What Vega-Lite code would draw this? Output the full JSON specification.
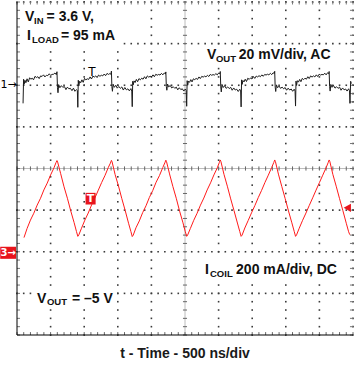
{
  "$schema": "https://vega.github.io/schema/vega-lite/v6.json",
  "width": 336,
  "height": 333,
  "padding": {"left": 17, "top": 2, "right": 1, "bottom": 31},
  "autosize": {"type": "none"},
  "background": "white",
  "config": {
    "view": {"stroke": null},
    "axis": {"disable": true},
    "square": {"size": 2.6, "filled": true, "color": "#3a3a3a", "opacity": 1}
  },
  "datasets": {
    "one": [{}],
    "mx": [{"t":0},{"t":0.1},{"t":0.2},{"t":0.3},{"t":0.4},{"t":0.5},{"t":0.6},{"t":0.7},{"t":0.8},{"t":0.9},{"t":1},{"t":1.1},{"t":1.2},{"t":1.3},{"t":1.4},{"t":1.5},{"t":1.6},{"t":1.7},{"t":1.8},{"t":1.9},{"t":2},{"t":2.1},{"t":2.2},{"t":2.3},{"t":2.4},{"t":2.5},{"t":2.6},{"t":2.7},{"t":2.8},{"t":2.9},{"t":3},{"t":3.1},{"t":3.2},{"t":3.3},{"t":3.4},{"t":3.5},{"t":3.6},{"t":3.7},{"t":3.8},{"t":3.9},{"t":4},{"t":4.1},{"t":4.2},{"t":4.3},{"t":4.4},{"t":4.5},{"t":4.6},{"t":4.7},{"t":4.8},{"t":4.9},{"t":5}],
    "my": [{"d":-4},{"d":-3.8},{"d":-3.6},{"d":-3.4},{"d":-3.2},{"d":-3},{"d":-2.8},{"d":-2.6},{"d":-2.4},{"d":-2.2},{"d":-2},{"d":-1.8},{"d":-1.6},{"d":-1.4},{"d":-1.2},{"d":-1},{"d":-0.8},{"d":-0.6},{"d":-0.4},{"d":-0.2},{"d":0},{"d":0.2},{"d":0.4},{"d":0.6},{"d":0.8},{"d":1},{"d":1.2},{"d":1.4},{"d":1.6},{"d":1.8},{"d":2},{"d":2.2},{"d":2.4},{"d":2.6},{"d":2.8},{"d":3},{"d":3.2},{"d":3.4},{"d":3.6},{"d":3.8},{"d":4}],
    "labels": [
      {"label": "V", "t": 0.119, "lev": 3.546},
      {"label": "= 3.6 V,", "t": 0.44, "lev": 3.546},
      {"label": "I", "t": 0.149, "lev": 3.089},
      {"label": "= 95 mA", "t": 0.655, "lev": 3.089},
      {"label": "V", "t": 2.827, "lev": 2.632},
      {"label": "20 mV/div, AC", "t": 3.3, "lev": 2.632},
      {"label": "I", "t": 2.798, "lev": -2.536},
      {"label": "200 mA/div, DC", "t": 3.26, "lev": -2.536},
      {"label": "V", "t": 0.298, "lev": -3.233},
      {"label": "= –5 V", "t": 0.818, "lev": -3.233}
    ],
    "subs": [
      {"label": "IN", "t": 0.253, "lev": 3.474},
      {"label": "LOAD", "t": 0.223, "lev": 3.017},
      {"label": "OUT", "t": 2.961, "lev": 2.56},
      {"label": "COIL", "t": 2.872, "lev": -2.608},
      {"label": "OUT", "t": 0.446, "lev": -3.281}
    ],
    "ch1": [
      {"t":0.090,"mV":-8.7},{"t":0.098,"mV":2.9},{"t":0.106,"mV":0.5},{"t":0.118,"mV":2.4},{"t":0.132,"mV":1.2},{"t":0.150,"mV":3.1},{"t":0.168,"mV":1.6},{"t":0.188,"mV":3.6},{"t":0.206,"mV":2.9},{"t":0.226,"mV":3.4},{"t":0.246,"mV":2.6},{"t":0.268,"mV":4.3},{"t":0.288,"mV":3.7},{"t":0.310,"mV":4.1},{"t":0.330,"mV":3.2},{"t":0.352,"mV":4.5},{"t":0.372,"mV":4.2},{"t":0.395,"mV":5.0},{"t":0.415,"mV":4.0},{"t":0.438,"mV":4.8},{"t":0.458,"mV":4.6},{"t":0.480,"mV":5.5},{"t":0.500,"mV":4.7},{"t":0.522,"mV":5.2},{"t":0.545,"mV":5.3},{"t":0.565,"mV":5.9},{"t":0.585,"mV":5.1},{"t":0.595,"mV":6.5},{"t":0.602,"mV":-1.0},{"t":0.610,"mV":-3.6},{"t":0.620,"mV":0.3},{"t":0.638,"mV":-1.2},{"t":0.660,"mV":-0.2},{"t":0.682,"mV":-1.0},{"t":0.705,"mV":-0.6},{"t":0.728,"mV":-2.1},{"t":0.750,"mV":-0.9},{"t":0.772,"mV":-1.7},{"t":0.795,"mV":-1.5},{"t":0.818,"mV":-2.6},{"t":0.840,"mV":-1.4},{"t":0.862,"mV":-2.9},{"t":0.885,"mV":-2.1},{"t":0.898,"mV":-2.5},{"t":0.905,"mV":-10.6},
      {"t":0.912,"mV":2.4},{"t":0.920,"mV":-0.3},{"t":0.932,"mV":1.9},{"t":0.948,"mV":1.2},{"t":0.966,"mV":2.6},{"t":0.985,"mV":1.4},{"t":1.005,"mV":3.3},{"t":1.025,"mV":2.6},{"t":1.046,"mV":3.1},{"t":1.066,"mV":2.8},{"t":1.088,"mV":4.0},{"t":1.108,"mV":3.0},{"t":1.130,"mV":4.4},{"t":1.150,"mV":3.9},{"t":1.172,"mV":4.5},{"t":1.192,"mV":3.7},{"t":1.214,"mV":4.9},{"t":1.234,"mV":4.3},{"t":1.256,"mV":4.8},{"t":1.276,"mV":4.5},{"t":1.298,"mV":5.4},{"t":1.318,"mV":4.6},{"t":1.340,"mV":5.7},{"t":1.360,"mV":5.2},{"t":1.382,"mV":5.6},{"t":1.398,"mV":5.3},{"t":1.405,"mV":6.8},{"t":1.412,"mV":-0.7},{"t":1.420,"mV":-2.9},{"t":1.430,"mV":0.5},{"t":1.448,"mV":-1.0},{"t":1.470,"mV":0.0},{"t":1.492,"mV":-1.4},{"t":1.515,"mV":-0.6},{"t":1.538,"mV":-1.5},{"t":1.560,"mV":-0.8},{"t":1.582,"mV":-2.3},{"t":1.605,"mV":-1.1},{"t":1.628,"mV":-2.2},{"t":1.650,"mV":-1.7},{"t":1.672,"mV":-2.7},{"t":1.695,"mV":-1.6},{"t":1.708,"mV":-2.8},{"t":1.715,"mV":-10.3},
      {"t":1.722,"mV":1.9},{"t":1.730,"mV":0.2},{"t":1.742,"mV":2.1},{"t":1.758,"mV":1.3},{"t":1.776,"mV":2.8},{"t":1.795,"mV":1.7},{"t":1.815,"mV":3.2},{"t":1.835,"mV":2.6},{"t":1.856,"mV":3.4},{"t":1.876,"mV":2.9},{"t":1.898,"mV":4.1},{"t":1.918,"mV":3.1},{"t":1.940,"mV":4.5},{"t":1.960,"mV":3.9},{"t":1.982,"mV":4.3},{"t":2.002,"mV":4.0},{"t":2.024,"mV":5.0},{"t":2.044,"mV":4.1},{"t":2.066,"mV":5.3},{"t":2.086,"mV":4.8},{"t":2.108,"mV":5.2},{"t":2.128,"mV":4.9},{"t":2.150,"mV":5.7},{"t":2.170,"mV":5.0},{"t":2.192,"mV":5.9},{"t":2.208,"mV":5.4},{"t":2.215,"mV":6.4},{"t":2.222,"mV":-0.6},{"t":2.230,"mV":-2.4},{"t":2.240,"mV":0.6},{"t":2.258,"mV":-0.8},{"t":2.280,"mV":-0.1},{"t":2.302,"mV":-1.3},{"t":2.325,"mV":-0.7},{"t":2.348,"mV":-1.5},{"t":2.370,"mV":-0.9},{"t":2.392,"mV":-2.2},{"t":2.415,"mV":-1.2},{"t":2.438,"mV":-2.1},{"t":2.460,"mV":-1.7},{"t":2.482,"mV":-2.8},{"t":2.505,"mV":-1.8},{"t":2.518,"mV":-2.6},{"t":2.525,"mV":-10.1},
      {"t":2.532,"mV":2.2},{"t":2.540,"mV":0.0},{"t":2.552,"mV":2.0},{"t":2.568,"mV":1.4},{"t":2.586,"mV":2.7},{"t":2.605,"mV":1.6},{"t":2.625,"mV":3.1},{"t":2.645,"mV":2.7},{"t":2.666,"mV":3.3},{"t":2.686,"mV":2.8},{"t":2.708,"mV":4.0},{"t":2.728,"mV":3.2},{"t":2.750,"mV":4.3},{"t":2.770,"mV":3.9},{"t":2.792,"mV":4.4},{"t":2.812,"mV":4.0},{"t":2.834,"mV":4.8},{"t":2.854,"mV":4.2},{"t":2.876,"mV":5.2},{"t":2.896,"mV":4.8},{"t":2.918,"mV":5.1},{"t":2.938,"mV":4.9},{"t":2.960,"mV":5.6},{"t":2.980,"mV":5.0},{"t":3.002,"mV":5.9},{"t":3.018,"mV":5.5},{"t":3.025,"mV":6.6},{"t":3.032,"mV":-0.8},{"t":3.040,"mV":-3.2},{"t":3.050,"mV":0.4},{"t":3.068,"mV":-1.1},{"t":3.090,"mV":-0.2},{"t":3.112,"mV":-1.5},{"t":3.135,"mV":-0.8},{"t":3.158,"mV":-1.6},{"t":3.180,"mV":-1.0},{"t":3.202,"mV":-2.4},{"t":3.225,"mV":-1.3},{"t":3.248,"mV":-2.3},{"t":3.270,"mV":-1.9},{"t":3.292,"mV":-3.0},{"t":3.315,"mV":-1.9},{"t":3.328,"mV":-2.7},{"t":3.335,"mV":-10.4},
      {"t":3.342,"mV":2.6},{"t":3.350,"mV":0.4},{"t":3.362,"mV":2.3},{"t":3.378,"mV":1.6},{"t":3.396,"mV":2.9},{"t":3.415,"mV":1.8},{"t":3.435,"mV":3.4},{"t":3.455,"mV":2.8},{"t":3.476,"mV":3.5},{"t":3.496,"mV":3.0},{"t":3.518,"mV":4.2},{"t":3.538,"mV":3.3},{"t":3.560,"mV":4.4},{"t":3.580,"mV":4.0},{"t":3.602,"mV":4.6},{"t":3.622,"mV":4.1},{"t":3.644,"mV":5.0},{"t":3.664,"mV":4.3},{"t":3.686,"mV":5.2},{"t":3.706,"mV":4.9},{"t":3.728,"mV":5.3},{"t":3.748,"mV":5.0},{"t":3.770,"mV":5.7},{"t":3.790,"mV":5.1},{"t":3.812,"mV":6.0},{"t":3.828,"mV":5.6},{"t":3.835,"mV":6.7},{"t":3.842,"mV":-0.9},{"t":3.850,"mV":-3.0},{"t":3.860,"mV":0.2},{"t":3.878,"mV":-1.2},{"t":3.900,"mV":-0.4},{"t":3.922,"mV":-1.5},{"t":3.945,"mV":-0.9},{"t":3.968,"mV":-1.7},{"t":3.990,"mV":-1.1},{"t":4.012,"mV":-2.4},{"t":4.035,"mV":-1.4},{"t":4.058,"mV":-2.3},{"t":4.080,"mV":-1.8},{"t":4.102,"mV":-2.9},{"t":4.125,"mV":-1.9},{"t":4.138,"mV":-2.8},{"t":4.145,"mV":-10.0},
      {"t":4.152,"mV":2.0},{"t":4.160,"mV":-0.1},{"t":4.172,"mV":2.2},{"t":4.188,"mV":1.5},{"t":4.206,"mV":2.8},{"t":4.225,"mV":1.7},{"t":4.245,"mV":3.3},{"t":4.265,"mV":2.7},{"t":4.286,"mV":3.4},{"t":4.306,"mV":2.9},{"t":4.328,"mV":4.1},{"t":4.348,"mV":3.2},{"t":4.370,"mV":4.5},{"t":4.390,"mV":3.9},{"t":4.412,"mV":4.5},{"t":4.432,"mV":4.0},{"t":4.454,"mV":5.0},{"t":4.474,"mV":4.2},{"t":4.496,"mV":5.3},{"t":4.516,"mV":4.9},{"t":4.538,"mV":5.2},{"t":4.558,"mV":5.0},{"t":4.580,"mV":5.8},{"t":4.600,"mV":5.0},{"t":4.622,"mV":6.0},{"t":4.638,"mV":5.5},{"t":4.645,"mV":6.6},{"t":4.652,"mV":-0.7},{"t":4.660,"mV":-2.8},{"t":4.670,"mV":0.4},{"t":4.688,"mV":-1.0},{"t":4.710,"mV":-0.1},{"t":4.732,"mV":-1.4},{"t":4.755,"mV":-0.7},{"t":4.778,"mV":-1.5},{"t":4.800,"mV":-0.9},{"t":4.822,"mV":-2.4},{"t":4.845,"mV":-1.3},{"t":4.868,"mV":-2.2},{"t":4.890,"mV":-1.8},{"t":4.912,"mV":-2.8},{"t":4.935,"mV":-1.7},{"t":4.948,"mV":-2.7},{"t":4.955,"mV":-8.7},{"t":4.965,"mV":1.9},{"t":4.975,"mV":0.8}
    ],
    "ch3": [
      {"t":0.104,"mA":68},{"t":0.150,"mA":112},{"t":0.200,"mA":152},{"t":0.250,"mA":185},{"t":0.300,"mA":224},{"t":0.350,"mA":257},{"t":0.400,"mA":297},{"t":0.450,"mA":330},{"t":0.500,"mA":369},{"t":0.550,"mA":403},{"t":0.580,"mA":428},{"t":0.595,"mA":438},{"t":0.605,"mA":431},{"t":0.650,"mA":375},{"t":0.700,"mA":312},{"t":0.750,"mA":257},{"t":0.800,"mA":196},{"t":0.850,"mA":140},{"t":0.885,"mA":97},{"t":0.905,"mA":74},
      {"t":0.920,"mA":81},{"t":0.960,"mA":113},{"t":1.010,"mA":152},{"t":1.060,"mA":186},{"t":1.110,"mA":225},{"t":1.160,"mA":259},{"t":1.210,"mA":296},{"t":1.260,"mA":333},{"t":1.310,"mA":367},{"t":1.360,"mA":406},{"t":1.390,"mA":426},{"t":1.405,"mA":439},{"t":1.415,"mA":432},{"t":1.460,"mA":371},{"t":1.510,"mA":316},{"t":1.560,"mA":255},{"t":1.610,"mA":198},{"t":1.660,"mA":137},{"t":1.695,"mA":97},{"t":1.715,"mA":73},
      {"t":1.730,"mA":80},{"t":1.770,"mA":115},{"t":1.820,"mA":148},{"t":1.870,"mA":188},{"t":1.920,"mA":221},{"t":1.970,"mA":261},{"t":2.020,"mA":294},{"t":2.070,"mA":334},{"t":2.120,"mA":366},{"t":2.170,"mA":405},{"t":2.200,"mA":427},{"t":2.215,"mA":440},{"t":2.225,"mA":433},{"t":2.270,"mA":374},{"t":2.320,"mA":313},{"t":2.370,"mA":257},{"t":2.420,"mA":195},{"t":2.470,"mA":139},{"t":2.505,"mA":96},{"t":2.525,"mA":74},
      {"t":2.540,"mA":81},{"t":2.580,"mA":112},{"t":2.630,"mA":151},{"t":2.680,"mA":185},{"t":2.730,"mA":224},{"t":2.780,"mA":258},{"t":2.830,"mA":297},{"t":2.880,"mA":331},{"t":2.930,"mA":369},{"t":2.980,"mA":403},{"t":3.010,"mA":428},{"t":3.025,"mA":441},{"t":3.035,"mA":433},{"t":3.080,"mA":372},{"t":3.130,"mA":315},{"t":3.180,"mA":254},{"t":3.230,"mA":197},{"t":3.280,"mA":138},{"t":3.315,"mA":97},{"t":3.335,"mA":74},
      {"t":3.350,"mA":80},{"t":3.390,"mA":114},{"t":3.440,"mA":150},{"t":3.490,"mA":187},{"t":3.540,"mA":222},{"t":3.590,"mA":260},{"t":3.640,"mA":295},{"t":3.690,"mA":333},{"t":3.740,"mA":368},{"t":3.790,"mA":405},{"t":3.820,"mA":428},{"t":3.835,"mA":441},{"t":3.845,"mA":434},{"t":3.890,"mA":373},{"t":3.940,"mA":314},{"t":3.990,"mA":256},{"t":4.040,"mA":196},{"t":4.090,"mA":139},{"t":4.125,"mA":98},{"t":4.145,"mA":74},
      {"t":4.160,"mA":81},{"t":4.200,"mA":113},{"t":4.250,"mA":151},{"t":4.300,"mA":186},{"t":4.350,"mA":223},{"t":4.400,"mA":259},{"t":4.450,"mA":296},{"t":4.500,"mA":332},{"t":4.550,"mA":368},{"t":4.600,"mA":404},{"t":4.630,"mA":428},{"t":4.645,"mA":441},{"t":4.655,"mA":434},{"t":4.700,"mA":372},{"t":4.750,"mA":315},{"t":4.800,"mA":255},{"t":4.850,"mA":197},{"t":4.900,"mA":137},{"t":4.935,"mA":96},{"t":4.952,"mA":82}
    ]
  },
  "layer": [
    {
      "encoding": {
        "x": {"type": "quantitative", "scale": {"domain": [0, 5], "nice": false}, "axis": null},
        "y": {"type": "quantitative", "scale": {"domain": [-4, 4], "nice": false}, "axis": null}
      },
      "layer": [
        {"data": {"name": "my"}, "mark": "square", "encoding": {"x": {"datum": 0.5}, "y": {"field": "d"}}},
        {"data": {"name": "my"}, "mark": "square", "encoding": {"x": {"datum": 1}, "y": {"field": "d"}}},
        {"data": {"name": "my"}, "mark": "square", "encoding": {"x": {"datum": 1.5}, "y": {"field": "d"}}},
        {"data": {"name": "my"}, "mark": "square", "encoding": {"x": {"datum": 2}, "y": {"field": "d"}}},
        {"data": {"name": "my"}, "mark": "square", "encoding": {"x": {"datum": 3}, "y": {"field": "d"}}},
        {"data": {"name": "my"}, "mark": "square", "encoding": {"x": {"datum": 3.5}, "y": {"field": "d"}}},
        {"data": {"name": "my"}, "mark": "square", "encoding": {"x": {"datum": 4}, "y": {"field": "d"}}},
        {"data": {"name": "my"}, "mark": "square", "encoding": {"x": {"datum": 4.5}, "y": {"field": "d"}}},
        {"data": {"name": "my"}, "mark": "square", "encoding": {"x": {"datum": 5}, "y": {"field": "d"}}},
        {"data": {"name": "mx"}, "mark": "square", "encoding": {"x": {"field": "t"}, "y": {"datum": -3}}},
        {"data": {"name": "mx"}, "mark": "square", "encoding": {"x": {"field": "t"}, "y": {"datum": -2}}},
        {"data": {"name": "mx"}, "mark": "square", "encoding": {"x": {"field": "t"}, "y": {"datum": -1}}},
        {"data": {"name": "mx"}, "mark": "square", "encoding": {"x": {"field": "t"}, "y": {"datum": 1}}},
        {"data": {"name": "mx"}, "mark": "square", "encoding": {"x": {"field": "t"}, "y": {"datum": 2}}},
        {"data": {"name": "mx"}, "mark": "square", "encoding": {"x": {"field": "t"}, "y": {"datum": 3}}},
        {"data": {"name": "mx"}, "mark": "square", "encoding": {"x": {"field": "t"}, "y": {"datum": 4}}},
        {
          "data": {"name": "one"},
          "mark": {"type": "rule", "stroke": "#bcbcbc", "strokeWidth": 1},
          "encoding": {"x": {"datum": 0}, "x2": {"datum": 5}, "y": {"datum": 0}}
        },
        {
          "data": {"name": "one"},
          "mark": {"type": "rule", "stroke": "#bcbcbc", "strokeWidth": 1},
          "encoding": {"y": {"datum": -4}, "y2": {"datum": 4}, "x": {"datum": 2.5}}
        },
        {
          "data": {"name": "mx"},
          "mark": {"type": "rule", "stroke": "#666", "strokeWidth": 1},
          "encoding": {"x": {"field": "t"}, "y": {"datum": -4}, "y2": {"datum": -3.93}}
        },
        {
          "data": {"name": "mx"},
          "mark": {"type": "rule", "stroke": "#777", "strokeWidth": 1},
          "encoding": {"x": {"field": "t"}, "y": {"datum": 4}, "y2": {"datum": 3.94}}
        },
        {
          "data": {"name": "my"},
          "mark": {"type": "rule", "stroke": "#777", "strokeWidth": 1},
          "encoding": {"y": {"field": "d"}, "x": {"datum": 0}, "x2": {"datum": 0.045}}
        },
        {
          "data": {"name": "my"},
          "mark": {"type": "rule", "stroke": "#777", "strokeWidth": 1},
          "encoding": {"y": {"field": "d"}, "x": {"datum": 5}, "x2": {"datum": 4.955}}
        },
        {
          "data": {"name": "mx"},
          "mark": {"type": "rule", "stroke": "#666", "strokeWidth": 1},
          "encoding": {"x": {"field": "t"}, "y": {"datum": -0.05}, "y2": {"datum": 0.05}}
        },
        {
          "data": {"name": "my"},
          "mark": {"type": "rule", "stroke": "#666", "strokeWidth": 1},
          "encoding": {"y": {"field": "d"}, "x": {"datum": 2.47}, "x2": {"datum": 2.53}}
        },
        {
          "data": {"name": "one"},
          "mark": {"type": "rule", "stroke": "#000", "strokeWidth": 1},
          "encoding": {"x": {"datum": 0}, "y": {"datum": -4}, "y2": {"datum": 4}}
        },
        {
          "data": {"name": "one"},
          "mark": {"type": "rule", "stroke": "#000", "strokeWidth": 1},
          "encoding": {"x": {"datum": 0}, "x2": {"datum": 5}, "y": {"datum": -4}}
        },
        {
          "data": {"name": "one"},
          "mark": {"type": "rect", "fill": "white"},
          "encoding": {"x": {"datum": 0.074}, "x2": {"datum": 1.533}, "y": {"datum": 3.858}, "y2": {"datum": 2.945}}
        },
        {
          "data": {"name": "one"},
          "mark": {"type": "rect", "fill": "white"},
          "encoding": {"x": {"datum": 2.768}, "x2": {"datum": 4.777}, "y": {"datum": 2.969}, "y2": {"datum": 2.464}}
        },
        {
          "data": {"name": "one"},
          "mark": {"type": "rect", "fill": "white"},
          "encoding": {"x": {"datum": 2.723}, "x2": {"datum": 4.836}, "y": {"datum": -2.175}, "y2": {"datum": -2.704}}
        },
        {
          "data": {"name": "one"},
          "mark": {"type": "rect", "fill": "white"},
          "encoding": {"x": {"datum": 0.238}, "x2": {"datum": 1.458}, "y": {"datum": -2.873}, "y2": {"datum": -3.353}}
        },
        {
          "data": {"name": "one"},
          "mark": {"type": "text", "text": "t - Time - 500 ns/div", "align": "center", "baseline": "alphabetic", "font": "Liberation Sans", "fontWeight": "bold", "fontSize": 14, "fill": "#1a1a1a"},
          "encoding": {"x": {"datum": 2.5}, "y": {"datum": -4.553}}
        },
        {
          "data": {"name": "labels"},
          "mark": {"type": "text", "align": "left", "baseline": "alphabetic", "font": "Liberation Sans", "fontWeight": "bold", "fontSize": 14, "fill": "#111"},
          "encoding": {"x": {"field": "t"}, "y": {"field": "lev"}, "text": {"field": "label"}}
        },
        {
          "data": {"name": "subs"},
          "mark": {"type": "text", "align": "left", "baseline": "alphabetic", "font": "Liberation Sans", "fontWeight": "bold", "fontSize": 9.5, "fill": "#111"},
          "encoding": {"x": {"field": "t"}, "y": {"field": "lev"}, "text": {"field": "label"}}
        }
      ]
    },
    {
      "layer": [
        {
          "data": {"name": "ch1"},
          "mark": {"type": "line", "stroke": "#1c1c1c", "strokeWidth": 1, "interpolate": "linear"},
          "encoding": {
            "x": {"field": "t", "type": "quantitative", "scale": {"domain": [0, 5], "nice": false}, "axis": null},
            "y": {"field": "mV", "type": "quantitative", "scale": {"domain": [-120, 40], "nice": false, "zero": false}, "axis": null}
          }
        },
        {
          "data": {"name": "one"},
          "mark": {"type": "text", "text": "1→", "align": "left", "baseline": "middle", "font": "DejaVu Sans", "fontSize": 11, "fill": "#000"},
          "encoding": {
            "x": {"datum": -0.245, "scale": {"domain": [0, 5], "nice": false}, "axis": null},
            "y": {"datum": 0, "scale": {"domain": [-120, 40], "nice": false, "zero": false}, "axis": null}
          }
        },
        {
          "data": {"name": "one"},
          "mark": {"type": "text", "text": "T", "align": "center", "baseline": "top", "font": "DejaVu Sans", "fontSize": 12, "fill": "#000"},
          "encoding": {
            "x": {"datum": 1.116, "scale": {"domain": [0, 5], "nice": false}, "axis": null},
            "y": {"datum": 8.8, "scale": {"domain": [-120, 40], "nice": false, "zero": false}, "axis": null}
          }
        }
      ]
    },
    {
      "layer": [
        {
          "data": {"name": "ch3"},
          "mark": {"type": "line", "stroke": "#ff1a1a", "strokeWidth": 1, "interpolate": "linear"},
          "encoding": {
            "x": {"field": "t", "type": "quantitative", "scale": {"domain": [0, 5], "nice": false}, "axis": null},
            "y": {"field": "mA", "type": "quantitative", "scale": {"domain": [-400, 1200], "nice": false, "zero": false}, "axis": null}
          }
        },
        {
          "data": {"name": "one"},
          "mark": {"type": "rect", "fill": "#e8141c"},
          "encoding": {
            "x": {"datum": -0.25, "scale": {"domain": [0, 5], "nice": false}, "axis": null},
            "x2": {"datum": -0.015},
            "y": {"datum": 24, "scale": {"domain": [-400, 1200], "nice": false, "zero": false}, "axis": null},
            "y2": {"datum": -34}
          }
        },
        {
          "data": {"name": "one"},
          "mark": {"type": "text", "text": "3→", "align": "center", "baseline": "middle", "font": "DejaVu Sans", "fontSize": 10, "fontWeight": "bold", "fill": "white"},
          "encoding": {
            "x": {"datum": -0.13, "scale": {"domain": [0, 5], "nice": false}, "axis": null},
            "y": {"datum": -5, "scale": {"domain": [-400, 1200], "nice": false, "zero": false}, "axis": null}
          }
        },
        {
          "data": {"name": "one"},
          "mark": {"type": "rect", "fill": "#e8141c"},
          "encoding": {
            "x": {"datum": 1.02, "scale": {"domain": [0, 5], "nice": false}, "axis": null},
            "x2": {"datum": 1.17},
            "y": {"datum": 283, "scale": {"domain": [-400, 1200], "nice": false, "zero": false}, "axis": null},
            "y2": {"datum": 227}
          }
        },
        {
          "data": {"name": "one"},
          "mark": {"type": "text", "text": "T", "align": "center", "baseline": "middle", "font": "DejaVu Sans", "fontSize": 11, "fontWeight": "bold", "fill": "white"},
          "encoding": {
            "x": {"datum": 1.095, "scale": {"domain": [0, 5], "nice": false}, "axis": null},
            "y": {"datum": 255, "scale": {"domain": [-400, 1200], "nice": false, "zero": false}, "axis": null}
          }
        },
        {
          "data": {"name": "one"},
          "mark": {"type": "point", "shape": "triangle-left", "filled": true, "fill": "#e8141c", "size": 70, "opacity": 1},
          "encoding": {
            "x": {"datum": 4.915, "scale": {"domain": [0, 5], "nice": false}, "axis": null},
            "y": {"datum": 211, "scale": {"domain": [-400, 1200], "nice": false, "zero": false}, "axis": null}
          }
        }
      ]
    }
  ],
  "resolve": {"scale": {"y": "independent"}}
}
